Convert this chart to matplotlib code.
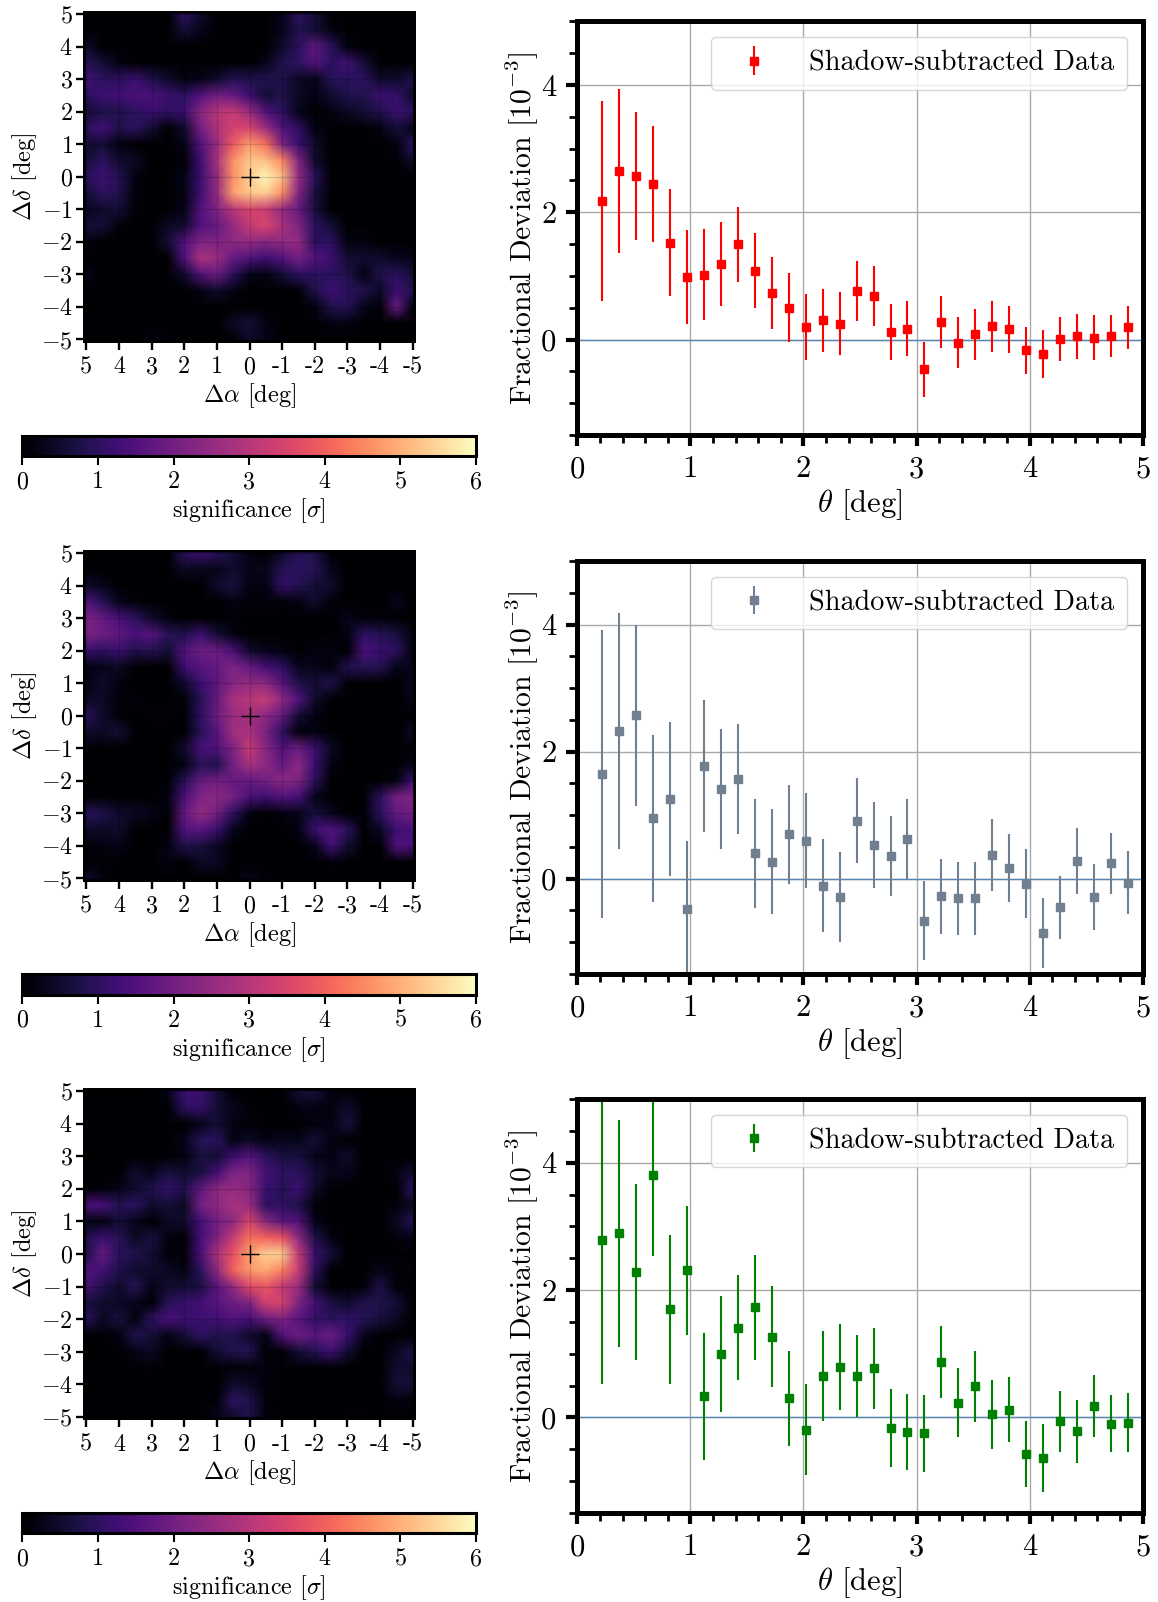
import numpy as np
import matplotlib
matplotlib.use('Agg')
import matplotlib.pyplot as plt
from matplotlib.ticker import MultipleLocator

plt.rcParams['font.family'] = ['cmr10']
plt.rcParams['mathtext.fontset'] = 'cm'
plt.rcParams['axes.unicode_minus'] = False
plt.rcParams['axes.formatter.use_mathtext'] = True

W, H = 1158, 1602

# map grid, 0.5 deg steps
ra_grid = [5, 4.5, 4, 3.5, 3, 2.5, 2, 1.5, 1, 0.5, 0, -0.5, -1, -1.5, -2, -2.5, -3, -3.5, -4, -4.5, -5]
dec_grid = [5, 4.5, 4, 3.5, 3, 2.5, 2, 1.5, 1, 0.5, 0, -0.5, -1, -1.5, -2, -2.5, -3, -3.5, -4, -4.5, -5]

map_1 = [
    [0, 0, 0, 0, 0, 0, 1.0, .5, 0, 0, 0, 0, .3, 1.0, .6, 0, 0, 0, 0, 0, 0],
    [0, 0, 0, 0, 0, 0, .6, .3, 0, 0, 0, 0, .3, .8, .6, .2, 0, 0, 0, 0, 0],
    [.5, 0, 0, 0, 0, 0, 0, 0, 0, 0, 0, 0, .5, 1.0, 1.8, 1.0, .2, 0, 0, 0, 0],
    [.9, .6, .2, 0, 0, 0, 0, 0, 0, 0, 0, .3, .8, 1.0, 1.5, 1.0, 1.3, .6, 0, 0, 0],
    [1.3, 1.0, 1.0, 1.2, .8, .5, .2, .3, .5, .9, .8, .8, .8, .4, .3, .9, 1.0, 1.0, .5, .5, .8],
    [1.0, 1.2, 1.3, 1.4, 1.4, 1.2, 1.0, 1.5, 2.0, 1.8, 1.2, .6, .8, .4, .2, .5, .8, .8, 1.2, 1.1, .5],
    [.5, .8, .8, 1.0, 1.2, 1.0, 1.2, 2.3, 3.0, 3.2, 2.6, 1.5, 1.0, .3, 0, .2, .4, .6, .8, 1.2, 1.0],
    [1.0, 1.3, .8, 1.0, .6, 0, .5, 2.0, 2.9, 3.4, 3.5, 2.6, 1.5, 1.0, .2, 0, 0, 0, .2, .6, .3],
    [.5, .6, .2, 0, 0, 0, .3, 1.5, 2.6, 3.9, 4.8, 4.2, 2.2, 1.2, .5, 0, 0, 0, 0, .2, 1.0],
    [.6, 1.0, .5, .4, 0, 0, 0, 1.2, 2.8, 4.6, 5.3, 5.2, 4.5, 2.2, .5, 0, 0, 0, 0, 0, .5],
    [1.0, 1.2, .9, .2, 0, 0, .3, 1.2, 2.5, 4.6, 5.4, 5.9, 5.2, 2.5, 1.0, 0, 0, 0, 0, 0, .1],
    [.6, 1.0, .8, .1, 0, 0, .2, 1.2, 2.5, 4.8, 5.3, 5.4, 4.6, 2.2, .7, 0, 0, 0, 0, 0, 0],
    [.3, .5, .6, .1, 0, 0, .3, 1.5, 2.2, 3.0, 3.5, 3.3, 2.5, 1.8, .7, 0, 0, 0, 0, 0, 0],
    [.6, .6, .1, 0, 0, .4, .5, 1.5, 1.8, 2.5, 3.2, 3.5, 2.8, 2.2, 1.0, .6, 0, 0, 0, 0, 0],
    [.2, 0, 0, 0, 0, .6, 1.5, 2.2, 2.2, 2.4, 2.5, 2.3, 2.5, 2.5, 1.0, 1.0, .2, .2, 0, 0, 0],
    [0, 0, 0, 0, 0, 0, 1.5, 2.8, 2.6, 1.8, 1.5, 1.2, 1.5, 2.0, 1.5, 1.2, .6, .5, .5, .3, .3],
    [.3, 0, 0, 0, 0, 0, .5, 1.5, 1.9, 1.0, .3, .2, .6, 1.0, 1.0, 1.0, .8, .2, .8, 1.0, .6],
    [0, 0, 0, 0, 0, 0, 0, .2, .5, .2, 0, 0, 0, 0, .8, 1.2, 1.0, .8, .4, 1.2, .8],
    [0, 0, 0, 0, 0, 0, 0, 0, 0, 0, 0, 0, 0, 0, .2, .8, .9, .3, .1, 1.8, .2],
    [0, 0, 0, 0, 0, 0, 0, 0, 0, .4, .6, .2, 0, 0, 0, .2, .2, 0, 0, 0, 0],
    [0, 0, 0, 0, .2, .1, 0, 0, 0, 0, .5, .3, 0, 0, 0, 0, 0, 0, 0, 0, 0],
]

map_2 = [
    [0, 0, 0, 0, 0, 0, 1.0, 1.2, 1.0, .6, .2, 0, .5, .9, .8, 0, 0, 0, 0, 0, 0],
    [0, 0, 0, 0, 0, 0, .4, .3, .3, .5, .3, .3, .9, 1.0, .9, .3, 0, 0, 0, 0, 0],
    [.5, .3, 0, 0, 0, 0, 0, 0, .5, .7, .2, .2, 1.1, .9, .6, .5, 0, 0, 0, 0, 0],
    [1.5, .9, .3, .1, 0, 0, 0, 0, 0, .2, .1, .1, .1, .2, .5, .1, 0, 0, 0, .3, 0],
    [2.2, 1.8, 1.4, 1.0, .5, .2, 0, 0, 0, .1, 0, 0, 0, 0, 0, 0, .3, .1, .1, 0, 0],
    [2.1, 1.9, 1.7, 1.4, 1.6, .9, .8, 1.2, .6, .2, 0, 0, 0, 0, 0, 0, .2, 1.0, .9, .7, .2],
    [1.2, 1.0, 1.2, .8, .9, .6, 1.5, 1.9, 1.9, 1.4, .5, .3, .2, 0, .2, .2, 0, 1.4, 1.2, 1.0, .2],
    [.2, .3, .4, 0, 0, 0, 1.2, 1.6, 1.8, 2.2, 1.8, 1.3, 1.0, .3, .3, .1, .8, .9, .9, .3, .3],
    [.2, .5, .2, 0, 0, 0, .5, 1.2, 1.7, 2.3, 2.5, 2.4, 1.6, .8, .6, .8, .1, 0, 0, 0, .3],
    [.4, .4, .1, .1, 0, 0, .1, .9, 1.8, 2.8, 3.0, 3.2, 2.4, 1.5, .5, 0, 0, 0, 0, 0, .3],
    [1.0, .5, .1, 0, .1, .1, 0, 1.0, 1.9, 2.6, 2.7, 2.4, 1.8, .6, .2, 0, 0, 0, 0, 0, 0],
    [.5, .4, .6, 0, 0, 0, 0, .9, 1.6, 2.7, 2.8, 2.1, 1.0, .1, .2, 0, 0, 0, 0, 0, .4],
    [0, 0, 0, 0, 0, 0, .5, 1.4, 1.5, 2.2, 3.2, 2.3, 1.5, 1.9, 1.2, .4, 0, 0, 0, 0, .1],
    [0, 0, 0, 0, 0, 0, .2, .9, .8, 2.0, 2.8, 2.4, 1.8, 2.4, 1.2, .2, 0, 0, 0, 0, .3],
    [0, 0, 0, 0, 0, 0, .9, 1.8, 2.0, 1.8, 1.8, 2.0, 2.4, 2.2, 1.0, 0, 0, 0, 0, .2, 1.2],
    [0, 0, 0, 0, 0, .2, 1.4, 2.2, 2.4, 2.0, 1.4, 1.2, 1.5, 1.3, .3, 0, 0, 0, 1.0, 2.0, 2.2],
    [1.0, .8, .5, .4, .3, 0, 1.8, 2.5, 2.0, 1.0, .2, 0, .2, .3, .7, .3, 0, 0, 1.0, 1.8, 2.0],
    [.5, .4, .5, 0, 0, 0, 1.5, 1.6, 1.2, .3, 0, 0, 0, .2, 1.2, 1.5, 1.0, 0, .4, 1.2, 1.4],
    [0, .2, .3, 0, 0, .2, .8, .7, .4, 0, 0, 0, 0, 0, .3, 1.3, .6, 0, 0, 1.5, 1.4],
    [0, 0, 0, 0, 0, .2, 0, .4, .4, 0, 0, 0, 0, 0, 0, .1, 0, 0, 0, 0, 0],
    [.5, .2, 0, 0, 0, 0, 0, 0, 0, 0, .3, .1, 0, 0, 0, 0, 0, 0, 0, .1, 0],
]

map_3 = [
    [0, 0, 0, 0, 0, .3, 1.2, 1.2, .6, 0, 0, 0, 0, .6, .7, .2, 0, 0, 0, 0, 0],
    [0, 0, 0, 0, 0, 0, 1.0, 1.1, .6, .3, .1, 0, 0, .2, .2, .1, .5, 0, 0, 0, 0],
    [.1, 0, 0, 0, 0, 0, 0, .3, .6, .2, .1, 0, 0, 0, .2, .2, .7, 0, 0, 0, 0],
    [0, 0, 0, 0, 0, 0, .3, .9, 1.0, .2, .4, .2, .3, .3, .6, .2, 0, 0, 0, 0, 0],
    [0, 0, 0, 0, 0, 0, .2, .7, .6, 1.2, 1.6, 1.0, .7, .7, .3, .2, .5, 0, 0, 0, 0],
    [0, 0, 0, .5, .3, .7, .5, .7, 1.3, 2.2, 2.2, 1.3, 1.0, 1.0, .6, .3, .3, 0, 0, .2, .5],
    [0, .1, .3, .5, .8, 1.1, .8, 1.7, 2.4, 2.5, 2.3, 1.2, .9, 1.2, .5, 0, 0, 0, 0, 0, 1.0],
    [1.4, 1.4, .9, 1.0, .5, .6, .4, 2.0, 2.4, 2.8, 2.6, 1.0, 1.0, .8, .1, 0, 0, 0, 0, .1, .4],
    [.2, .2, .6, .3, 0, .4, .5, 1.3, 2.0, 2.4, 3.5, 2.3, 1.7, 1.5, .3, 0, 0, 0, 0, .4, .9],
    [.8, 1.2, .9, .4, .7, .2, 0, 1.3, 2.2, 3.2, 4.2, 4.0, 3.8, 2.4, .8, .2, 0, 0, 0, .1, .3],
    [.8, 1.8, 1.0, .8, .6, .1, .1, 1.4, 2.8, 3.8, 4.8, 5.4, 5.4, 3.2, 1.2, .6, 0, 0, 0, 0, 0],
    [1.5, 1.3, .8, .5, .5, .4, .2, 1.0, 2.4, 4.0, 4.7, 4.9, 4.4, 3.2, 1.0, 0, 0, 0, .3, .1, .1],
    [1.4, .8, .5, .9, .3, .5, .6, .7, 1.6, 2.5, 3.6, 3.8, 3.2, 2.6, .6, 0, 0, .1, .8, .1, 0],
    [.7, .5, .4, .3, 0, .9, 1.1, 1.3, 1.6, 1.9, 2.2, 3.4, 3.4, 2.2, 1.3, .7, .5, .8, .8, .6, 0],
    [1.0, .4, .7, .2, 1.0, 1.4, 1.2, 1.2, 1.3, 1.5, 1.3, 1.9, 2.2, 1.6, 1.1, 1.0, 1.1, .9, .7, .4, 0],
    [0, 0, .2, .8, .6, .2, .6, 1.0, .8, .8, .5, .2, 1.5, 1.9, 1.6, 1.9, 1.2, .3, 0, 0, 0],
    [0, 0, 0, .3, .4, 0, 0, 0, .6, .8, .9, 0, .1, .6, .9, 1.2, .6, 0, 0, .4, .8],
    [0, 0, 0, 0, .1, 0, 0, 0, 0, .1, .1, .2, 0, 0, 0, 0, 0, 0, 0, .5, .5],
    [0, 0, 0, 0, 0, 0, 0, 0, 0, .5, .4, .1, 0, 0, 0, 0, 0, 0, 0, .6, .6],
    [0, 0, 0, 0, 0, 0, 0, 0, .1, 1.0, .8, .1, 0, 0, 0, 0, 0, 0, 0, .2, .1],
    [0, 0, 0, 0, 0, 0, 0, 0, .3, .5, .8, .1, 0, 0, 0, 0, .1, .1, 0, 0, 0],
]

# radial profiles
theta = [0.22, 0.37, 0.52, 0.67, 0.82, 0.97, 1.12, 1.27, 1.42, 1.57, 1.72, 1.87, 2.02, 2.17, 2.32, 2.47,
         2.62, 2.77, 2.92, 3.07, 3.22, 3.37, 3.52, 3.67, 3.82, 3.97, 4.12, 4.27, 4.42, 4.57, 4.72, 4.87]

dev_1 = [2.18, 2.65, 2.57, 2.44, 1.52, 0.98, 1.02, 1.19, 1.50, 1.08, 0.73, 0.50, 0.20, 0.30, 0.25, 0.76,
         0.69, 0.12, 0.17, -0.47, 0.27, -0.05, 0.08, 0.21, 0.16, -0.17, -0.23, 0.01, 0.05, 0.03, 0.06, 0.19]
err_1 = [1.57, 1.29, 1.00, 0.91, 0.84, 0.74, 0.72, 0.66, 0.59, 0.59, 0.57, 0.54, 0.52, 0.50, 0.49, 0.47,
         0.47, 0.44, 0.43, 0.43, 0.41, 0.40, 0.40, 0.40, 0.37, 0.37, 0.38, 0.35, 0.35, 0.35, 0.33, 0.34]

dev_2 = [1.65, 2.32, 2.57, 0.95, 1.25, -0.47, 1.77, 1.41, 1.57, 0.40, 0.27, 0.70, 0.60, -0.11, -0.29, 0.91,
         0.53, 0.36, 0.62, -0.66, -0.28, -0.31, -0.31, 0.37, 0.17, -0.08, -0.85, -0.45, 0.28, -0.29, 0.24, -0.06]
err_2 = [2.27, 1.86, 1.43, 1.31, 1.21, 1.06, 1.04, 0.95, 0.86, 0.86, 0.83, 0.78, 0.75, 0.73, 0.71, 0.67,
         0.67, 0.63, 0.63, 0.62, 0.59, 0.57, 0.58, 0.57, 0.54, 0.54, 0.55, 0.50, 0.52, 0.52, 0.48, 0.49]

dev_3 = [2.78, 2.89, 2.28, 3.81, 1.70, 2.31, 0.33, 0.99, 1.41, 1.73, 1.27, 0.30, -0.19, 0.65, 0.79, 0.65,
         0.77, -0.17, -0.23, -0.25, 0.87, 0.23, 0.49, 0.05, 0.12, -0.57, -0.64, -0.06, -0.22, 0.18, -0.10, -0.08]
err_3 = [2.25, 1.78, 1.38, 1.27, 1.17, 1.01, 1.00, 0.91, 0.82, 0.82, 0.79, 0.75, 0.72, 0.70, 0.68, 0.65,
         0.64, 0.61, 0.60, 0.60, 0.57, 0.54, 0.56, 0.54, 0.51, 0.52, 0.53, 0.48, 0.49, 0.49, 0.45, 0.47]

map_ticks = [5, 4, 3, 2, 1, 0, -1, -2, -3, -4, -5]
cbar_ticks = [0, 1, 2, 3, 4, 5, 6]
prof_xticks = [0, 1, 2, 3, 4, 5]
prof_yticks = [0, 2, 4]

# pixel boxes: left, top, right, bottom
map_boxes = [(83, 11, 416, 342.7), (83, 549.7, 416, 881.7), (83, 1088, 416, 1420)]
cbar_boxes = [(22.3, 435.5, 476, 456), (22.3, 974, 476, 994.5), (22.3, 1512.5, 476, 1533)]
prof_boxes = [(577.3, 21.3, 1142.7, 435), (577.3, 561, 1142.7, 974), (577.3, 1099, 1142.7, 1513)]
colors = ['red', 'slategray', 'green']


def px_axes(fig, box):
    l, t, r, b = box
    return fig.add_axes([l / W, 1 - b / H, (r - l) / W, (b - t) / H])


def draw_map(fig, box, cbox, values):
    ax = px_axes(fig, box)
    ax.set_facecolor('black')
    mesh = ax.pcolormesh(ra_grid, dec_grid, np.array(values), cmap='magma', vmin=0, vmax=6,
                         shading='gouraud', rasterized=True)
    ax.set_xlim(5.1, -5.1)
    ax.set_ylim(-5.1, 5.1)
    ax.grid(True, color='black', alpha=0.15, lw=1)
    ax.set_axisbelow(False)
    ax.plot(0, 0, '+', color='black', ms=12.5, mew=1)
    ax.set_xticks(map_ticks)
    ax.set_xticklabels([str(v) for v in map_ticks])
    ax.set_yticks(map_ticks)
    ax.set_yticklabels(['$%d$' % v for v in map_ticks])
    ax.tick_params(labelsize=17.3, length=5.2, width=1.7)
    ax.tick_params(axis='x', pad=4.6)
    ax.tick_params(axis='y', pad=2.2)
    ax.set_xlabel(r'$\Delta\alpha$ [deg]', fontsize=17.6, labelpad=2)
    ax.set_ylabel(r'$\Delta\delta$ [deg]', fontsize=17.6, labelpad=1)
    for s in ax.spines.values():
        s.set_visible(False)

    cax = px_axes(fig, cbox)
    cb = fig.colorbar(mesh, cax=cax, orientation='horizontal')
    cb.outline.set_linewidth(2.2)
    cb.set_ticks(cbar_ticks)
    cb.set_ticklabels([str(v) for v in cbar_ticks])
    cax.tick_params(labelsize=17.3, length=6.5, width=1.5, pad=4.3)
    cb.set_label(r'significance [$\sigma$]', fontsize=17.3, labelpad=2.3)


def draw_profile(fig, box, dev, err, color):
    ax = px_axes(fig, box)
    ax.grid(True, color='darkgray', lw=1)
    ax.set_axisbelow(True)
    ax.axhline(0, color='steelblue', lw=1, alpha=0.85, zorder=1.5)
    ax.errorbar(theta, dev, yerr=err, fmt='s', color=color, ms=5.5, elinewidth=1.5,
                label='Shadow-subtracted Data')
    ax.set_xlim(0, 5)
    ax.set_ylim(-1.5, 5)
    ax.set_xticks(prof_xticks)
    ax.set_xticklabels([str(v) for v in prof_xticks])
    ax.set_yticks(prof_yticks)
    ax.set_yticklabels([str(v) for v in prof_yticks])
    ax.xaxis.set_minor_locator(MultipleLocator(0.2))
    ax.yaxis.set_minor_locator(MultipleLocator(0.5))
    ax.tick_params(which='major', labelsize=22, length=8, width=3, pad=7)
    ax.tick_params(which='minor', length=5.5, width=2)
    ax.set_xlabel(r'$\theta$ [deg]', fontsize=22, labelpad=3)
    ax.set_ylabel(r'Fractional Deviation [$10^{-3}$]', fontsize=21.4, labelpad=0)
    for s in ax.spines.values():
        s.set_linewidth(3.6)
    ax.legend(loc='upper right', fontsize=20.3, numpoints=1, handlelength=2.1, handletextpad=0.9,
              borderaxespad=0.55, borderpad=0.47)


fig = plt.figure(figsize=(W / 100, H / 100), dpi=100)
for box, cbox, values in zip(map_boxes, cbar_boxes, [map_1, map_2, map_3]):
    draw_map(fig, box, cbox, values)
for box, dev, err, color in zip(prof_boxes, [dev_1, dev_2, dev_3], [err_1, err_2, err_3], colors):
    draw_profile(fig, box, dev, err, color)

fig.savefig('out.png', dpi=100)
